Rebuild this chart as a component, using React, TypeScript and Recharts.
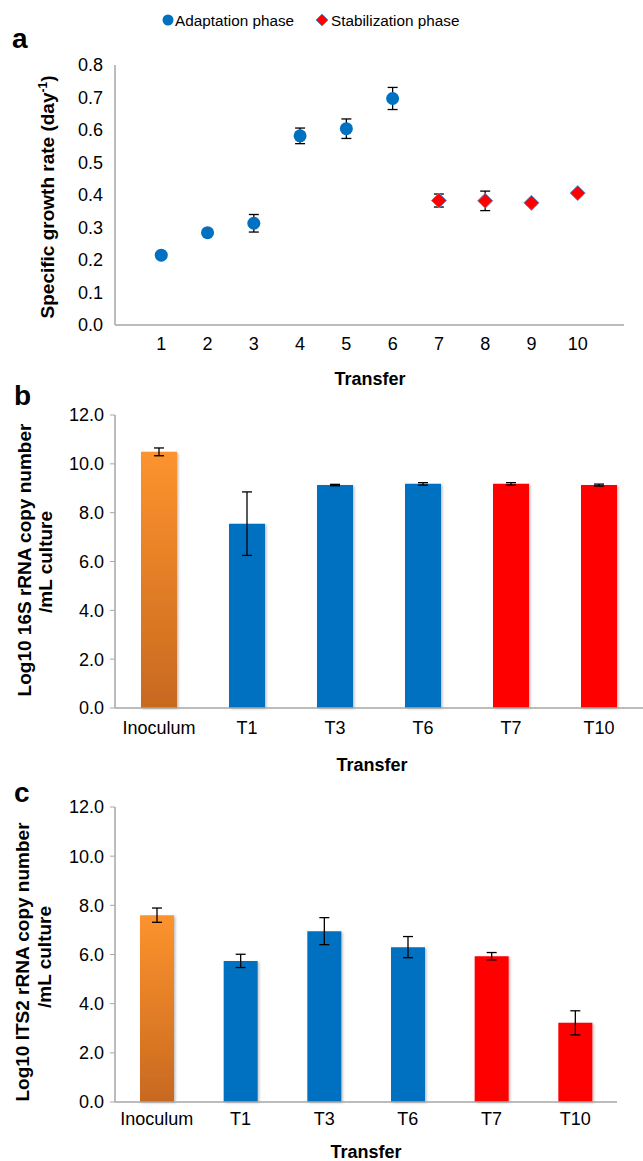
import {
  Bar,
  BarChart,
  Cell,
  ErrorBar,
  Scatter,
  ScatterChart,
  XAxis,
  YAxis,
} from "recharts";

const FONT = '"Liberation Sans", Arial, sans-serif';
const BLUE = "#0070C0";
const RED = "#FF0000";
const AXIS = "#a6a6a6";

// panel a: specific growth rate per transfer
const transfers = [1, 2, 3, 4, 5, 6, 7, 8, 9, 10];
const growthRate = [0.215, 0.284, 0.313, 0.582, 0.604, 0.697, 0.383, 0.382, 0.376, 0.406];
const growthErr = [0.004, 0.004, 0.027, 0.024, 0.03, 0.034, 0.02, 0.03, 0.006, 0.006];
const adaptationCount = 6; // transfers 1-6 = adaptation, 7-10 = stabilization
const growthTicks = [0, 0.1, 0.2, 0.3, 0.4, 0.5, 0.6, 0.7, 0.8];

// panels b and c: copy numbers per sample
const samples = ["Inoculum", "T1", "T3", "T6", "T7", "T10"];
const log16S = [10.49, 7.55, 9.13, 9.18, 9.18, 9.13];
const log16SErr = [0.16, 1.3, 0.03, 0.05, 0.05, 0.04];
const logITS2 = [7.6, 5.74, 6.95, 6.3, 5.93, 3.22];
const logITS2Err = [0.29, 0.27, 0.55, 0.43, 0.15, 0.49];
const copyTicks = [0, 2, 4, 6, 8, 10, 12];

const sampleColor = (i: number, gradId: string) =>
  i === 0 ? `url(#${gradId})` : i <= 3 ? BLUE : RED;

const adaptation = transfers.slice(0, adaptationCount).map((x, i) => ({
  x,
  y: growthRate[i],
  err: growthErr[i],
}));
const stabilization = transfers.slice(adaptationCount).map((x, i) => ({
  x,
  y: growthRate[i + adaptationCount],
  err: growthErr[i + adaptationCount],
}));

const tickStyle = { fontSize: 18, fill: "#000", fontFamily: FONT };

function CircleMark(p: any) {
  return <circle cx={p.cx} cy={p.cy} r={6.5} fill={BLUE} />;
}

function DiamondMark(p: any) {
  const r = 7.5;
  const { cx, cy } = p;
  return (
    <polygon
      points={`${cx},${cy - r} ${cx + r},${cy} ${cx},${cy + r} ${cx - r},${cy}`}
      fill={RED}
      stroke="#5b8bd0"
      strokeWidth={1}
    />
  );
}

function GrowthPanel() {
  return (
    <ScatterChart width={643} height={400} margin={{ top: 65, right: 19, left: 0, bottom: 0 }}>
      <XAxis
        type="number"
        dataKey="x"
        domain={[0, 11]}
        ticks={transfers}
        height={75}
        tickLine={false}
        tickMargin={6}
        axisLine={{ stroke: AXIS, strokeWidth: 1.5 }}
        tick={tickStyle}
      />
      <YAxis
        type="number"
        dataKey="y"
        domain={[0, 0.8]}
        ticks={growthTicks}
        width={115}
        tickLine={false}
        tickMargin={6}
        axisLine={{ stroke: AXIS, strokeWidth: 1.5 }}
        tick={tickStyle}
        tickFormatter={(v: number) => v.toFixed(1)}
      />
      <Scatter data={adaptation} shape={CircleMark} isAnimationActive={false}>
        <ErrorBar dataKey="err" direction="y" width={5} stroke="#000" strokeWidth={1.3} />
      </Scatter>
      <Scatter data={stabilization} shape={DiamondMark} isAnimationActive={false}>
        <ErrorBar dataKey="err" direction="y" width={5} stroke="#000" strokeWidth={1.3} />
      </Scatter>
    </ScatterChart>
  );
}

function CopyPanel({
  values,
  errs,
  width,
  height,
  top,
  right,
  axisHeight,
  barSize,
  tickMargin,
  gradId,
}: {
  values: number[];
  errs: number[];
  width: number;
  height: number;
  top: number;
  right: number;
  axisHeight: number;
  barSize: number;
  tickMargin: number;
  gradId: string;
}) {
  const data = samples.map((name, i) => ({ name, value: values[i], err: errs[i] }));
  return (
    <BarChart width={width} height={height} data={data} margin={{ top, right, left: 0, bottom: 0 }}>
      <defs>
        <linearGradient id={gradId} x1="0" y1="0" x2="0" y2="1">
          <stop offset="0%" stopColor="#fd932e" />
          <stop offset="100%" stopColor="#c8691f" />
        </linearGradient>
        <filter id={gradId + "-sh"} x="-20%" y="-5%" width="140%" height="110%">
          <feDropShadow dx="1.5" dy="1" stdDeviation="1.2" floodColor="#000" floodOpacity="0.25" />
        </filter>
      </defs>
      <XAxis
        dataKey="name"
        height={axisHeight}
        tickLine={false}
        tickMargin={tickMargin}
        interval={0}
        axisLine={{ stroke: AXIS, strokeWidth: 1.5 }}
        tick={tickStyle}
      />
      <YAxis
        domain={[0, 12]}
        ticks={copyTicks}
        width={115}
        tickSize={5}
        tickMargin={6}
        tickLine={{ stroke: AXIS }}
        axisLine={{ stroke: AXIS, strokeWidth: 1.5 }}
        tick={tickStyle}
        tickFormatter={(v: number) => v.toFixed(1)}
      />
      <Bar dataKey="value" barSize={barSize} isAnimationActive={false}>
        {data.map((d, i) => (
          <Cell key={d.name} fill={sampleColor(i, gradId)} filter={`url(#${gradId}-sh)`} />
        ))}
        <ErrorBar dataKey="err" direction="y" width={5} stroke="#000" strokeWidth={1.3} />
      </Bar>
    </BarChart>
  );
}

function Overlay() {
  const bold = { fontFamily: FONT, fontWeight: 700, fill: "#000" };
  return (
    <svg
      width={643}
      height={1161}
      style={{ position: "absolute", left: 0, top: 0, pointerEvents: "none" }}
    >
      {/* legend */}
      <circle cx={168} cy={20} r={5.5} fill={BLUE} />
      <text x={175} y={25.5} fontSize={15.3} fontFamily={FONT} fill="#000">
        Adaptation phase
      </text>
      <polygon points="322,14 328,20 322,26 316,20" fill={RED} stroke="#5b8bd0" strokeWidth={1} />
      <text x={331} y={25.5} fontSize={15.3} fontFamily={FONT} fill="#000">
        Stabilization phase
      </text>

      {/* panel letters */}
      <text x={12} y={48} fontSize={28} {...bold}>a</text>
      <text x={14} y={405} fontSize={28} {...bold}>b</text>
      <text x={14} y={802} fontSize={28} {...bold}>c</text>

      {/* panel a titles */}
      <text x={54} y={197} transform="rotate(-90 54 197)" textAnchor="middle" fontSize={19} {...bold}>
        Specific growth rate (day<tspan dy={-7} fontSize={12}>-1</tspan>
        <tspan dy={7}>)</tspan>
      </text>
      <text x={370} y={385} textAnchor="middle" fontSize={18} {...bold}>Transfer</text>

      {/* panel b titles */}
      <text x={31} y={560} transform="rotate(-90 31 560)" textAnchor="middle" fontSize={19} {...bold}>
        Log10 16S rRNA copy number
      </text>
      <text x={52} y={562} transform="rotate(-90 52 562)" textAnchor="middle" fontSize={19} {...bold}>
        /mL culture
      </text>
      <text x={372} y={771} textAnchor="middle" fontSize={18} {...bold}>Transfer</text>

      {/* panel c titles */}
      <text x={29} y={962} transform="rotate(-90 29 962)" textAnchor="middle" fontSize={19} {...bold}>
        Log10 ITS2 rRNA copy number
      </text>
      <text x={51} y={957} transform="rotate(-90 51 957)" textAnchor="middle" fontSize={19} {...bold}>
        /mL culture
      </text>
      <text x={366} y={1158} textAnchor="middle" fontSize={18} {...bold}>Transfer</text>
    </svg>
  );
}

export default function App() {
  return (
    <div
      style={{
        position: "absolute",
        left: 0,
        top: 0,
        width: 643,
        height: 1161,
        background: "#fff",
        fontFamily: FONT,
        overflow: "hidden",
      }}
    >
      <div style={{ position: "absolute", left: 0, top: 0 }}>
        <GrowthPanel />
      </div>
      <div style={{ position: "absolute", left: 0, top: 380 }}>
        <CopyPanel
          values={log16S}
          errs={log16SErr}
          width={643}
          height={400}
          top={35}
          right={0}
          axisHeight={72}
          barSize={36}
          tickMargin={7}
          gradId="inocGradB"
        />
      </div>
      <div style={{ position: "absolute", left: 0, top: 780 }}>
        <CopyPanel
          values={logITS2}
          errs={logITS2Err}
          width={643}
          height={381}
          top={27}
          right={26}
          axisHeight={59}
          barSize={34}
          tickMargin={4}
          gradId="inocGradC"
        />
      </div>
      <Overlay />
    </div>
  );
}
